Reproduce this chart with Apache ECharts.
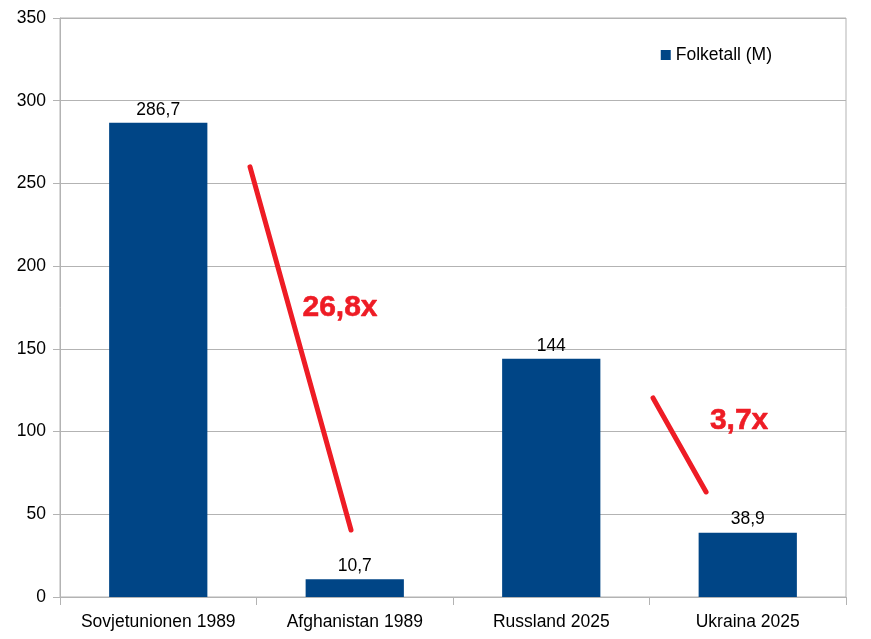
<!DOCTYPE html>
<html><head><meta charset="utf-8">
<script src="https://cdn.jsdelivr.net/npm/echarts@6/dist/echarts.min.js"></script>
<style>html,body{margin:0;padding:0;background:#fff}#c{width:871px;height:639px}</style>
</head><body><div id="c"></div>
<script>
const categories = ['Sovjetunionen 1989', 'Afghanistan 1989', 'Russland 2025', 'Ukraina 2025'];
const population = [286.7, 10.7, 144, 38.9];
const seriesName = 'Folketall (M)';
const yTicks = [0, 50, 100, 150, 200, 250, 300, 350];
// annotation lines in data coordinates (x: category position 0..4, y: value)
const ratioLine1 = [[0.967, 260], [1.481, 40.5]];
const ratioLine2 = [[3.018, 120.3], [3.288, 63.5]];
const ratioLabels = [
  { text: '26,8x', pos: [1.425, 174.7] },
  { text: '3,7x', pos: [3.456, 106.4] }
];

const red = '#ee1c25';
const chart = echarts.init(document.getElementById('c'), null, { renderer: 'canvas' });
const font = 'Liberation Sans, Arial, sans-serif';
const fs = 17.5;
chart.setOption({
  animation: false,
  textStyle: { fontFamily: font },
  grid: { left: 60, right: 25, top: 18, bottom: 42, show: true, borderColor: '#b3b3b3', borderWidth: 1 },
  legend: {
    data: [seriesName], right: 94, top: 41, itemWidth: 10, itemHeight: 10, icon: 'rect', itemGap: 6,
    textStyle: { fontSize: fs, color: '#000', fontFamily: font }
  },
  xAxis: [{
    type: 'category', data: categories,
    axisLine: { lineStyle: { color: '#b3b3b3' } },
    axisTick: { show: true, length: 8, interval: 0, lineStyle: { color: '#b3b3b3' } },
    axisLabel: { color: '#000', fontSize: fs, margin: 16, interval: 0, fontFamily: font }
  }, {
    type: 'value', min: 0, max: 4, show: false, position: 'bottom'
  }],
  yAxis: {
    type: 'value', min: yTicks[0], max: yTicks[yTicks.length - 1], interval: yTicks[1] - yTicks[0],
    axisLine: { show: true, lineStyle: { color: '#b3b3b3' } },
    axisTick: { show: true, length: 7, lineStyle: { color: '#b3b3b3' } },
    splitLine: { lineStyle: { color: '#b3b3b3' } },
    axisLabel: { color: '#000', fontSize: fs, margin: 14, fontFamily: font }
  },
  series: [{
    name: seriesName, type: 'bar', data: population, barWidth: '50%',
    itemStyle: { color: '#004586' },
    label: {
      show: true, position: 'top', distance: 4, color: '#000', fontSize: fs, fontFamily: font,
      formatter: p => String(p.value).replace('.', ',')
    }
  }, {
    type: 'line', xAxisIndex: 1, data: ratioLine1, symbol: 'none', silent: true,
    lineStyle: { color: red, width: 5, cap: 'round' }
  }, {
    type: 'line', xAxisIndex: 1, data: ratioLine2, symbol: 'none', silent: true,
    lineStyle: { color: red, width: 5, cap: 'round' }
  }, {
    type: 'scatter', xAxisIndex: 1, symbolSize: 0, silent: true,
    itemStyle: { opacity: 1, color: red },
    data: ratioLabels.map(r => ({ value: r.pos, name: r.text })),
    label: {
      show: true, position: 'inside', formatter: p => p.name,
      color: red, fontSize: 30, fontWeight: 'bold', fontFamily: font,
      textBorderColor: red, textBorderWidth: 0.6
    }
  }]
});
</script></body></html>
